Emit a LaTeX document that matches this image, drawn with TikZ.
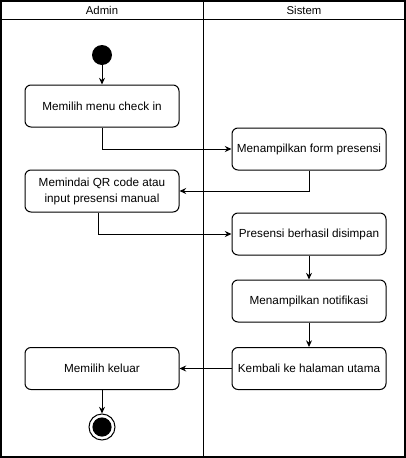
\documentclass[tikz,border=0pt]{standalone}
\usepackage{fontspec}
\setmainfont{Liberation Sans}
\usetikzlibrary{arrows.meta}
\usetikzlibrary{positioning}

\tikzset{
  act/.style={draw, rounded corners=4.5pt, line width=0.75pt, minimum width=115.5pt, minimum height=31.5pt, inner sep=0pt, align=center, font=\fontsize{8.8}{12}\selectfont},
  flow/.style={draw, line width=0.75pt, -{Stealth[length=5pt,width=4.5pt]}},
  lanetitle/.style={inner sep=0pt, font=\fontsize{8.5}{10}\selectfont}
}

\begin{document}
\begin{tikzpicture}[x=0.75pt,y=0.75pt,yscale=-1,xscale=1]
\useasboundingbox (0,0) rectangle (406,458);

%Shape: Swimlane frame
\draw [line width=1pt] (1,1) rectangle (405,457) ;
\draw [line width=0.75pt] (1,19) -- (405,19) ;
\draw [line width=0.75pt] (203,1) -- (203,457) ;

% Text Node
\node [lanetitle] (admin) at (102,10) {Admin};
\node [lanetitle] (sistem) at (304,10) {Sistem};

%Shape: Start
\node [circle, fill=black, minimum size=15pt, inner sep=0pt] (start) at (102,55) {};

%Shape: Actions
\node [act] (checkin) at (102,106) {Memilih menu check in};
\node [act] (form) at (309,149) {Menampilkan form presensi};
\node [act] (scan) at (102,191) {Memindai QR code atau\\input presensi manual};
\node [act] (simpan) at (309,234) {Presensi berhasil disimpan};
\node [act] (notif) at (309,301) {Menampilkan notifikasi};
\node [act] (kembali) at (309,368.5) {Kembali ke halaman utama};
\node [act] (keluar) at (102,368.5) {Memilih keluar};

%Shape: End
\node [circle, draw, line width=0.75pt, minimum size=19.5pt, inner sep=0pt] (end) at (102,427) {};
\fill (end.center) circle (7.2pt) ;

%Straight Lines
\draw [flow] (start) -- (checkin) ;
\draw [flow] (checkin.south) |- (form.west) ;
\draw [flow] (form.south) |- (scan.east) ;
\draw [flow] ([xshift=-3pt]scan.south) |- (simpan.west) ;
\draw [flow] (simpan) -- (notif) ;
\draw [flow] (notif) -- (kembali) ;
\draw [flow] (kembali) -- (keluar) ;
\draw [flow] (keluar) -- (end) ;
\end{tikzpicture}
\end{document}
